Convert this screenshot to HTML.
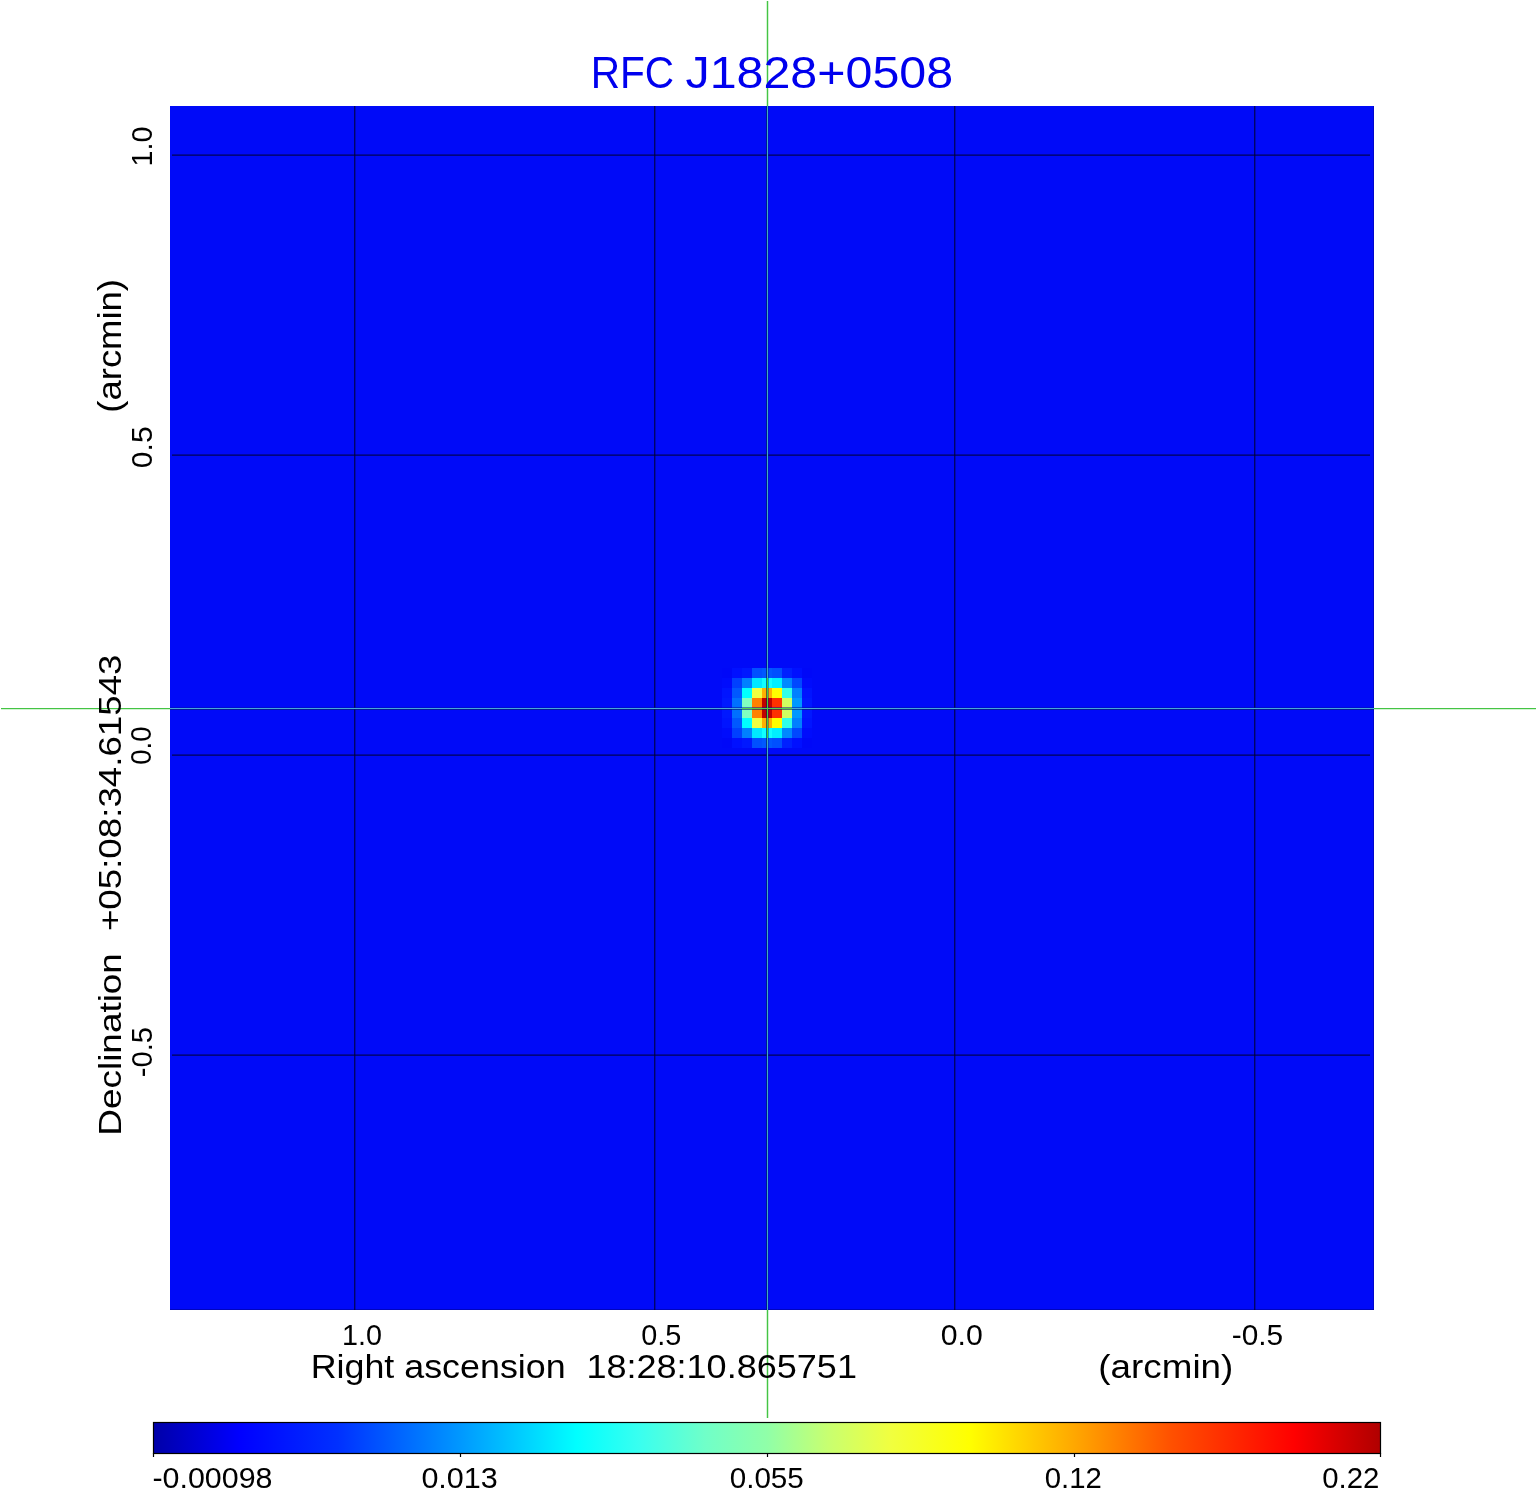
<!DOCTYPE html>
<html>
<head>
<meta charset="utf-8">
<style>
html,body{margin:0;padding:0;background:#ffffff;width:1536px;height:1511px;overflow:hidden;}
svg{position:absolute;left:0;top:0;display:block;will-change:transform;}
text{font-family:"Liberation Sans",sans-serif;}
</style>
</head>
<body>
<svg width="1536" height="1511" viewBox="0 0 1536 1511">
<defs>
<linearGradient id="cb" x1="0" y1="0" x2="1" y2="0">
<stop offset="0" stop-color="#0000a8"/>
<stop offset="0.07" stop-color="#0000ff"/>
<stop offset="0.15" stop-color="#0030ff"/>
<stop offset="0.25" stop-color="#0098ff"/>
<stop offset="0.345" stop-color="#00ffff"/>
<stop offset="0.395" stop-color="#38fff0"/>
<stop offset="0.45" stop-color="#70ffc8"/>
<stop offset="0.5" stop-color="#90ffa8"/>
<stop offset="0.55" stop-color="#c8ff70"/>
<stop offset="0.60" stop-color="#f0ff40"/>
<stop offset="0.665" stop-color="#ffff00"/>
<stop offset="0.75" stop-color="#ffa800"/>
<stop offset="0.83" stop-color="#ff5000"/>
<stop offset="0.93" stop-color="#ff0000"/>
<stop offset="1" stop-color="#b00000"/>
</linearGradient>
</defs>
<!-- image -->
<rect x="170" y="106" width="1204" height="1204" fill="#000af8"/>
<g id="src" shape-rendering="crispEdges">
<rect x="722" y="668" width="10" height="10" fill="#0008f8"/>
<rect x="732" y="668" width="10" height="10" fill="#0010ff"/>
<rect x="742" y="668" width="10" height="10" fill="#0018ff"/>
<rect x="752" y="668" width="10" height="10" fill="#0050ff"/>
<rect x="762" y="668" width="10" height="10" fill="#0058ff"/>
<rect x="772" y="668" width="10" height="10" fill="#0050ff"/>
<rect x="782" y="668" width="10" height="10" fill="#0020ff"/>
<rect x="792" y="668" width="10" height="10" fill="#0010ff"/>
<rect x="802" y="668" width="10" height="10" fill="#0008f8"/>
<rect x="722" y="678" width="10" height="10" fill="#000cfc"/>
<rect x="732" y="678" width="10" height="10" fill="#0040ff"/>
<rect x="742" y="678" width="10" height="10" fill="#0080ff"/>
<rect x="752" y="678" width="10" height="10" fill="#00e8ff"/>
<rect x="762" y="678" width="10" height="10" fill="#10ffff"/>
<rect x="772" y="678" width="10" height="10" fill="#00f0ff"/>
<rect x="782" y="678" width="10" height="10" fill="#0088ff"/>
<rect x="792" y="678" width="10" height="10" fill="#0048ff"/>
<rect x="802" y="678" width="10" height="10" fill="#000cfc"/>
<rect x="722" y="688" width="10" height="10" fill="#0014ff"/>
<rect x="732" y="688" width="10" height="10" fill="#0058ff"/>
<rect x="742" y="688" width="10" height="10" fill="#00ffff"/>
<rect x="752" y="688" width="10" height="10" fill="#f0ff40"/>
<rect x="762" y="688" width="10" height="10" fill="#ffb000"/>
<rect x="772" y="688" width="10" height="10" fill="#ffff00"/>
<rect x="782" y="688" width="10" height="10" fill="#30ffe8"/>
<rect x="792" y="688" width="10" height="10" fill="#0080ff"/>
<rect x="802" y="688" width="10" height="10" fill="#0014ff"/>
<rect x="722" y="698" width="10" height="10" fill="#0018ff"/>
<rect x="732" y="698" width="10" height="10" fill="#0070ff"/>
<rect x="742" y="698" width="10" height="10" fill="#80ffc0"/>
<rect x="752" y="698" width="10" height="10" fill="#ff8000"/>
<rect x="762" y="698" width="10" height="10" fill="#c00000"/>
<rect x="772" y="698" width="10" height="10" fill="#ff3000"/>
<rect x="782" y="698" width="10" height="10" fill="#d0ff60"/>
<rect x="792" y="698" width="10" height="10" fill="#0098ff"/>
<rect x="802" y="698" width="10" height="10" fill="#0018ff"/>
<rect x="722" y="708" width="10" height="10" fill="#0018ff"/>
<rect x="732" y="708" width="10" height="10" fill="#0070ff"/>
<rect x="742" y="708" width="10" height="10" fill="#80ffc0"/>
<rect x="752" y="708" width="10" height="10" fill="#ff8000"/>
<rect x="762" y="708" width="10" height="10" fill="#c00000"/>
<rect x="772" y="708" width="10" height="10" fill="#ff3000"/>
<rect x="782" y="708" width="10" height="10" fill="#d0ff60"/>
<rect x="792" y="708" width="10" height="10" fill="#0098ff"/>
<rect x="802" y="708" width="10" height="10" fill="#0018ff"/>
<rect x="722" y="718" width="10" height="10" fill="#0014ff"/>
<rect x="732" y="718" width="10" height="10" fill="#0058ff"/>
<rect x="742" y="718" width="10" height="10" fill="#00ffff"/>
<rect x="752" y="718" width="10" height="10" fill="#f0ff40"/>
<rect x="762" y="718" width="10" height="10" fill="#ffb000"/>
<rect x="772" y="718" width="10" height="10" fill="#ffff00"/>
<rect x="782" y="718" width="10" height="10" fill="#30ffe8"/>
<rect x="792" y="718" width="10" height="10" fill="#0080ff"/>
<rect x="802" y="718" width="10" height="10" fill="#0014ff"/>
<rect x="722" y="728" width="10" height="10" fill="#000cfc"/>
<rect x="732" y="728" width="10" height="10" fill="#0040ff"/>
<rect x="742" y="728" width="10" height="10" fill="#0080ff"/>
<rect x="752" y="728" width="10" height="10" fill="#00e8ff"/>
<rect x="762" y="728" width="10" height="10" fill="#10ffff"/>
<rect x="772" y="728" width="10" height="10" fill="#00f0ff"/>
<rect x="782" y="728" width="10" height="10" fill="#0088ff"/>
<rect x="792" y="728" width="10" height="10" fill="#0048ff"/>
<rect x="802" y="728" width="10" height="10" fill="#000cfc"/>
<rect x="722" y="738" width="10" height="10" fill="#0008f8"/>
<rect x="732" y="738" width="10" height="10" fill="#0010ff"/>
<rect x="742" y="738" width="10" height="10" fill="#0018ff"/>
<rect x="752" y="738" width="10" height="10" fill="#0050ff"/>
<rect x="762" y="738" width="10" height="10" fill="#0058ff"/>
<rect x="772" y="738" width="10" height="10" fill="#0050ff"/>
<rect x="782" y="738" width="10" height="10" fill="#0020ff"/>
<rect x="792" y="738" width="10" height="10" fill="#0010ff"/>
<rect x="802" y="738" width="10" height="10" fill="#0008f8"/>
</g>
<g shape-rendering="crispEdges">

<rect x="170" y="1309" width="1204" height="1" fill="#000080" opacity="0.5"/>
<rect x="1373" y="106" width="1" height="1204" fill="#000080" opacity="0.35"/>
</g>
<!-- grid -->
<g stroke="#000008" stroke-width="1" opacity="0.85">
<line x1="172" y1="155.1" x2="1370" y2="155.1"/>
<line x1="172" y1="455.1" x2="1370" y2="455.1"/>
<line x1="172" y1="755.1" x2="1370" y2="755.1"/>
<line x1="172" y1="1055.1" x2="1370" y2="1055.1"/>
<line x1="354.8" y1="106" x2="354.8" y2="1310"/>
<line x1="654.8" y1="106" x2="654.8" y2="1310"/>
<line x1="954.8" y1="106" x2="954.8" y2="1310"/>
<line x1="1254.8" y1="106" x2="1254.8" y2="1310"/>
</g>
<!-- colorbar -->
<rect x="153.5" y="1422.5" width="1227" height="31" fill="url(#cb)" stroke="#000" stroke-width="1.2"/>
<g stroke="#000" stroke-width="1.2">
<line x1="153.5" y1="1453" x2="153.5" y2="1457"/>
<line x1="460.5" y1="1453" x2="460.5" y2="1457"/>
<line x1="767.5" y1="1453" x2="767.5" y2="1457"/>
<line x1="1074.5" y1="1453" x2="1074.5" y2="1457"/>
<line x1="1380.5" y1="1453" x2="1380.5" y2="1457"/>
</g>
<!-- crosshair -->
<g shape-rendering="crispEdges">
<rect x="767" y="1" width="1" height="105" fill="#44c444"/>
<rect x="767" y="1310" width="1" height="108" fill="#44c444"/>
<rect x="1" y="708" width="169" height="1" fill="#44c444"/>
<rect x="1374" y="708" width="162" height="1" fill="#44c444"/>
<rect x="766" y="1" width="1" height="105" fill="#a8e8a8" opacity="0.5"/>
<rect x="768" y="1" width="1" height="105" fill="#a8e8a8" opacity="0.5"/>
<rect x="766" y="1310" width="1" height="108" fill="#a8e8a8" opacity="0.5"/>
<rect x="768" y="1310" width="1" height="108" fill="#a8e8a8" opacity="0.5"/>
<rect x="1" y="709" width="169" height="1" fill="#a8e8a8" opacity="0.5"/>
<rect x="1374" y="709" width="162" height="1" fill="#a8e8a8" opacity="0.5"/>
<rect x="766" y="106" width="1" height="1204" fill="#002050" opacity="0.6"/>
<rect x="768" y="106" width="1" height="1204" fill="#0010a0" opacity="0.4"/>
<rect x="170" y="707" width="1204" height="1" fill="#0010a0" opacity="0.5"/>
<rect x="170" y="709" width="1204" height="1" fill="#002060" opacity="0.6"/>
<rect x="767" y="106" width="1" height="1204" fill="#40acc0"/>
<rect x="170" y="708" width="1204" height="1" fill="#48a8d8"/>
<rect x="742" y="708" width="50" height="1" fill="#50d050"/>
<rect x="767" y="678" width="1" height="60" fill="#40d040"/>
</g>


<g>
<text x="590.68" y="88.12" font-size="44.60" textLength="83.44" lengthAdjust="spacingAndGlyphs" fill="#0000ee" xml:space="preserve">RFC</text>
<text x="685.44" y="88.05" font-size="44.60" textLength="267.72" lengthAdjust="spacingAndGlyphs" fill="#0000ee" xml:space="preserve">J1828+0508</text>
<text x="310.68" y="1377.80" font-size="33.10" textLength="254.96" lengthAdjust="spacingAndGlyphs" fill="#000000" xml:space="preserve">Right ascension</text>
<text x="586.40" y="1377.80" font-size="33.10" textLength="270.55" lengthAdjust="spacingAndGlyphs" fill="#000000" xml:space="preserve">18:28:10.865751</text>
<text transform="translate(121.00 1135.64) rotate(-90)" x="0" y="0" font-size="30.90" textLength="182.53" lengthAdjust="spacingAndGlyphs" fill="#000000" xml:space="preserve">Declination</text>
<text transform="translate(121.00 931.12) rotate(-90)" x="0" y="0" font-size="30.90" textLength="276.64" lengthAdjust="spacingAndGlyphs" fill="#000000" xml:space="preserve">+05:08:34.61543</text>
<text x="1098.36" y="1377.80" font-size="33.10" textLength="134.92" lengthAdjust="spacingAndGlyphs" fill="#000000" xml:space="preserve">(arcmin)</text>
<text transform="translate(120.90 412.68) rotate(-90)" x="0" y="0" font-size="33.10" textLength="133.67" lengthAdjust="spacingAndGlyphs" fill="#000000" xml:space="preserve">(arcmin)</text>
<text x="341.94" y="1345.28" font-size="29.50" textLength="39.93" lengthAdjust="spacingAndGlyphs" fill="#000000" xml:space="preserve">1.0</text>
<text x="641.28" y="1345.00" font-size="29.50" textLength="40.04" lengthAdjust="spacingAndGlyphs" fill="#000000" xml:space="preserve">0.5</text>
<text x="940.74" y="1345.00" font-size="29.50" textLength="42.04" lengthAdjust="spacingAndGlyphs" fill="#000000" xml:space="preserve">0.0</text>
<text x="1231.74" y="1345.00" font-size="29.50" textLength="51.40" lengthAdjust="spacingAndGlyphs" fill="#000000" xml:space="preserve">-0.5</text>
<text transform="translate(152.00 166.56) rotate(-90)" x="0" y="0" font-size="29.50" textLength="40.00" lengthAdjust="spacingAndGlyphs" fill="#000000" xml:space="preserve">1.0</text>
<text transform="translate(152.28 468.14) rotate(-90)" x="0" y="0" font-size="29.50" textLength="41.74" lengthAdjust="spacingAndGlyphs" fill="#000000" xml:space="preserve">0.5</text>
<text transform="translate(150.60 764.76) rotate(-90)" x="0" y="0" font-size="29.50" textLength="38.45" lengthAdjust="spacingAndGlyphs" fill="#000000" xml:space="preserve">0.0</text>
<text transform="translate(152.00 1077.26) rotate(-90)" x="0" y="0" font-size="29.50" textLength="50.38" lengthAdjust="spacingAndGlyphs" fill="#000000" xml:space="preserve">-0.5</text>
<text x="152.44" y="1487.94" font-size="28.80" textLength="120.05" lengthAdjust="spacingAndGlyphs" fill="#000000" xml:space="preserve">-0.00098</text>
<text x="421.40" y="1487.52" font-size="28.80" textLength="76.42" lengthAdjust="spacingAndGlyphs" fill="#000000" xml:space="preserve">0.013</text>
<text x="729.70" y="1487.52" font-size="28.80" textLength="74.10" lengthAdjust="spacingAndGlyphs" fill="#000000" xml:space="preserve">0.055</text>
<text x="1044.70" y="1487.52" font-size="28.80" textLength="57.10" lengthAdjust="spacingAndGlyphs" fill="#000000" xml:space="preserve">0.12</text>
<text x="1322.24" y="1487.52" font-size="28.80" textLength="57.12" lengthAdjust="spacingAndGlyphs" fill="#000000" xml:space="preserve">0.22</text>
</g>
</svg>
</body>
</html>
